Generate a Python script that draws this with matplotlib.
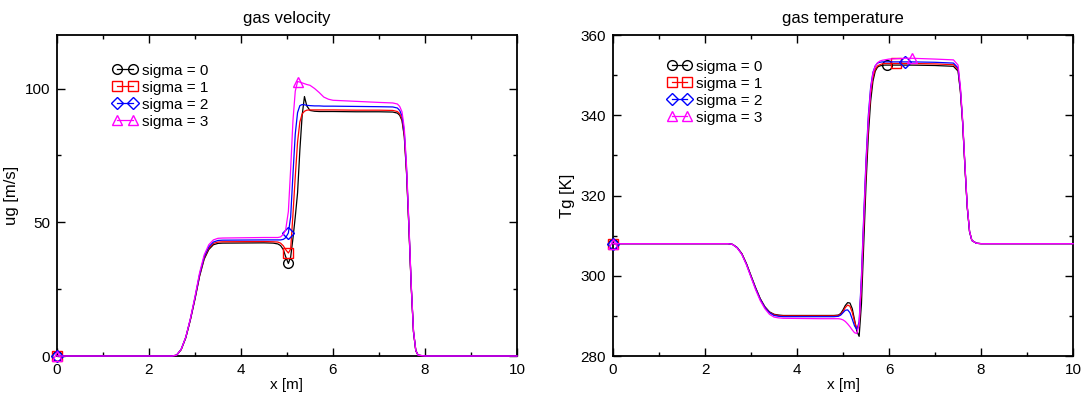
import numpy as np
import matplotlib.pyplot as plt

plt.rcParams['font.family'] = ['Liberation Sans', 'DejaVu Sans']

labels = ["sigma = 0", "sigma = 1", "sigma = 2", "sigma = 3"]
colors = ["black", "red", "blue", "magenta"]
markers = ["o", "s", "D", "^"]

# ---- gas velocity ----
x_ug = [0, 2.5, 2.6, 2.7, 2.8, 2.9, 3.0, 3.1, 3.2, 3.3, 3.4, 3.5, 3.6,
        4.5, 4.7, 4.8, 4.86, 4.92, 4.97, 5.03, 5.08, 5.13, 5.18, 5.23, 5.28,
        5.33, 5.38, 5.43, 5.5, 5.6, 5.7, 5.8, 5.9, 6.0, 6.5, 7.0,
        7.3, 7.4, 7.45, 7.5, 7.55, 7.6, 7.65, 7.7, 7.75, 7.8, 7.85, 8.0, 10]

ug_s0 = [0, 0, 0.3, 2.4, 6.8, 13.5, 21.3, 29.8, 36.2, 39.8, 41.6, 42.1, 42.2,
         42.3, 42.2, 41.9, 41.3, 39.8, 37.2, 34.6, 37, 44, 52, 61, 77,
         90, 97, 93.5, 91.8, 91.5, 91.4, 91.4, 91.4, 91.4, 91.3, 91.3,
         91.2, 90.8, 90, 88, 82, 68, 48, 26, 9, 2, 0.3, 0, 0]
ug_s1 = [0, 0, 0.3, 2.4, 6.9, 13.6, 21.5, 30.1, 36.6, 40.3, 42.1, 42.6, 42.7,
         42.8, 42.7, 42.6, 42.2, 41.2, 39.8, 38.5, 40, 53, 67, 80, 87.5,
         90.5, 91.5, 91.9, 92, 92, 92, 92, 92, 92, 91.9, 91.9,
         91.8, 91.4, 90.6, 88.6, 82.6, 68.5, 48.3, 26.2, 9.1, 2, 0.3, 0, 0]
ug_s2 = [0, 0, 0.3, 2.5, 7.0, 13.8, 21.8, 30.5, 37.1, 40.8, 42.6, 43.2, 43.3,
         43.4, 43.4, 43.4, 43.4, 43.6, 44.2, 46, 52, 68, 83, 91, 93.6,
         94, 93.9, 93.7, 93.6, 93.5, 93.5, 93.4, 93.4, 93.4, 93.3, 93.2,
         93.1, 92.7, 91.8, 89.8, 83.7, 69.5, 49, 26.6, 9.2, 2.1, 0.3, 0, 0]
ug_s3 = [0, 0, 0.3, 2.5, 7.1, 14.0, 22.2, 31.1, 37.8, 41.6, 43.4, 44.0, 44.1,
         44.3, 44.3, 44.3, 44.5, 45.5, 47, 54, 70, 88, 99, 102.6, 102.4,
         102.1, 101.8, 101.5, 101.2, 100, 98.5, 96.8, 96, 95.6, 95.2, 94.8,
         94.6, 94.2, 93.3, 91.3, 85.2, 70.7, 49.8, 27, 9.4, 2.1, 0.3, 0, 0]
ug_mark = [[0, 19], [0, 19], [0, 19], [0, 23]]

# ---- gas temperature ----
x_tg = [0, 2.5, 2.6, 2.7, 2.8, 2.9, 3.0, 3.1, 3.2, 3.3, 3.4, 3.5, 3.6, 3.7,
        4.5, 4.8, 4.9, 4.95, 5.0, 5.05, 5.1, 5.15, 5.2, 5.25, 5.3, 5.35,
        5.4, 5.45, 5.5, 5.55, 5.6, 5.65, 5.7, 5.75, 5.8, 5.85, 5.9, 5.95,
        6.0, 6.15, 6.35, 6.5, 7.0, 7.4, 7.5, 7.55, 7.6, 7.65, 7.7, 7.75,
        7.8, 7.9, 8.0, 10]

tg_s0 = [308, 308, 307.8, 307, 305.5, 303, 300, 297, 294.3, 292.3, 291, 290.4, 290.2, 290.1,
         290.1, 290.1, 290.2, 290.6, 291.5, 292.6, 293.3, 293.2, 291.8, 289, 286.2, 284.9,
         293, 308, 323, 335, 343.5, 348.5, 351, 352, 352.3, 352.4, 352.5, 352.5,
         352.5, 352.5, 352.5, 352.5, 352.4, 352.2, 351, 346, 338, 327, 317, 311,
         308.8, 308.1, 308, 308]
tg_s1 = [308, 308, 307.8, 307, 305.5, 303, 299.9, 296.9, 294.2, 292.2, 290.9, 290.3, 290.1, 290.0,
         290.0, 290.0, 290.1, 290.4, 291.1, 292.1, 292.7, 292.4, 290.9, 288.6, 286.7, 287.5,
         298, 313, 327, 338, 345.5, 349.5, 351.5, 352.3, 352.6, 352.8, 352.9, 352.9,
         352.9, 352.9, 352.9, 352.9, 352.8, 352.6, 351.4, 346.3, 338.2, 327.2, 317.1, 311,
         308.8, 308.1, 308, 308]
tg_s2 = [308, 308, 307.8, 307, 305.4, 302.9, 299.8, 296.8, 294.1, 292.1, 290.8, 290.1, 289.9, 289.8,
         289.8, 289.8, 289.9, 290.2, 290.8, 291.4, 291.5, 290.8, 289.2, 287.5, 286.6, 288.5,
         300, 315, 329, 340, 347, 350.7, 352.3, 353, 353.2, 353.3, 353.3, 353.3,
         353.3, 353.3, 353.3, 353.3, 353.2, 353.0, 351.8, 346.6, 338.4, 327.3, 317.2, 311,
         308.8, 308.1, 308, 308]
tg_s3 = [308, 308, 307.8, 306.9, 305.3, 302.7, 299.6, 296.5, 293.8, 291.8, 290.4, 289.7, 289.5, 289.4,
         289.3, 289.3, 289.3, 289.2, 289.0, 288.6, 288, 287.3, 286.5, 285.8, 285.6, 288,
         299, 314, 328, 339, 346.5, 350.5, 352.3, 353.1, 353.5, 353.7, 353.8, 353.9,
         354, 354.1, 354.2, 354.2, 354.0, 353.8, 352.5, 347.2, 338.8, 327.6, 317.4, 311.1,
         308.8, 308.1, 308, 308]
tg_mark = [[0, 37], [0, 39], [0, 40], [0, 41]]

fig = plt.figure(figsize=(10.85, 3.96), dpi=100)
ax1 = fig.add_axes([0.0525, 0.101, 0.424, 0.8106])
ax2 = fig.add_axes([0.565, 0.101, 0.424, 0.8106])

for i, ys in enumerate([ug_s0, ug_s1, ug_s2, ug_s3]):
    ax1.plot(x_ug, ys, color=colors[i], lw=0.9, marker=markers[i], markevery=ug_mark[i],
             ms=7 if markers[i] != "D" else 6, mfc="none", mew=1.0, label=labels[i],
             clip_on=False)
for i, ys in enumerate([tg_s0, tg_s1, tg_s2, tg_s3]):
    ax2.plot(x_tg, ys, color=colors[i], lw=0.9, marker=markers[i], markevery=tg_mark[i],
             ms=7 if markers[i] != "D" else 6, mfc="none", mew=1.0, label=labels[i],
             clip_on=False)

ax1.set_xlim(0, 10)
ax1.set_ylim(0, 120)
ax1.set_yticks([0, 50, 100])
ax1.set_yticks([25, 75], minor=True)
ax1.set_ylabel("ug [m/s]", fontsize=12, labelpad=4)
ax1.set_title("gas velocity", fontsize=12, pad=9)

ax2.set_xlim(0, 10)
ax2.set_ylim(280, 360)
ax2.set_yticks([280, 300, 320, 340, 360])
ax2.set_yticks([290, 310, 330, 350], minor=True)
ax2.set_ylabel("Tg [K]", fontsize=12, labelpad=4)
ax2.set_title("gas temperature", fontsize=12, pad=9)

for ax in (ax1, ax2):
    ax.set_xticks([0, 2, 4, 6, 8, 10])
    ax.set_xticks([1, 3, 5, 7, 9], minor=True)
    ax.set_xlabel("x [m]", fontsize=11, labelpad=1)
    ax.tick_params(which="both", direction="in", top=True, right=True, labelsize=11, width=1.0)
    ax.tick_params(which="major", length=6, pad=5)
    ax.tick_params(which="minor", length=3)
    for s in ax.spines.values():
        s.set_linewidth(1.3)
        s.set_zorder(1)

ax1.legend(loc="upper left", bbox_to_anchor=(0.105, 0.935), frameon=False, fontsize=11,
           numpoints=2, handlelength=1.6, handletextpad=0.3, labelspacing=0.2, borderpad=0)
ax2.legend(loc="upper left", bbox_to_anchor=(0.101, 0.947), frameon=False, fontsize=11,
           numpoints=2, handlelength=1.6, handletextpad=0.3, labelspacing=0.2, borderpad=0)

fig.savefig("out.png", dpi=100)
